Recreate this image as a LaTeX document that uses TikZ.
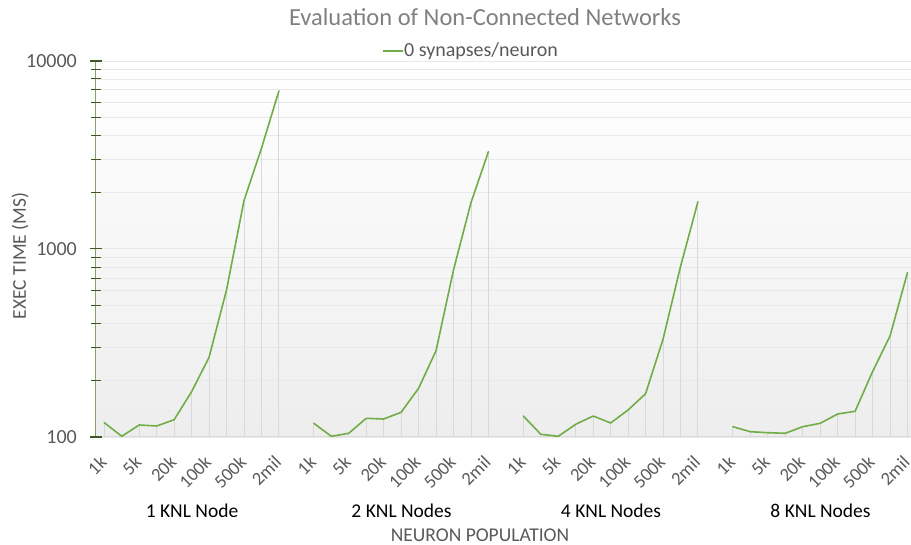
\documentclass[tikz,border=0pt]{standalone}
\usepackage{fontspec}
\setmainfont{Carlito}
\definecolor{linegreen}{HTML}{70AD47}
\definecolor{txtgrey}{HTML}{595959}
\definecolor{titlegrey}{HTML}{808080}
\definecolor{gridgrey}{HTML}{E9E9E9}
\definecolor{dropgrey}{HTML}{D9D9D9}
\definecolor{axisgreen}{HTML}{86A070}
\definecolor{tickgreen}{HTML}{3B5A27}
\tikzset{
  dataline/.style={linegreen, line width=1.6pt, line join=round, line cap=round},
  dropline/.style={dropgrey, line width=0.9pt},
  gridline/.style={gridgrey, line width=0.8pt},
  majortick/.style={tickgreen, line width=1.2pt},
  minortick/.style={tickgreen, line width=0.9pt},
  ylab/.style={anchor=east, inner sep=0pt, text=txtgrey, font=\fontsize{20}{24}\selectfont},
  xlab/.style={anchor=east, inner sep=0pt, rotate=45, text=txtgrey, font=\fontsize{18.5}{22}\selectfont},
  grplab/.style={inner sep=0pt, text=black, font=\fontsize{19.5}{23}\selectfont},
  axtitle/.style={inner sep=0pt, text=txtgrey, font=\fontsize{19.5}{23}\selectfont},
}
\begin{document}
\begin{tikzpicture}[x=1pt,y=-1pt]
\useasboundingbox (0,0) rectangle (911,545);
\begin{scope}
\clip (0,0) rectangle (911,545);
% plot area background
\shade[top color=white, bottom color=black!7] (95.6,61) rectangle (916,437);
% horizontal gridlines
\foreach \d in {0,1}{
  \foreach \m in {1,...,9}{
    \pgfmathsetmacro\yy{437-188.15*(\d+log10(\m))}
    \draw[gridline] (97,\yy) -- (916,\yy);
  }
}
\draw[gridline] (97,61) -- (916,61);
% data coordinates
\foreach \g/\ys in {
  0/{422.7,436.3,425,426,419.7,391.7,357.3,290,200.7,148.3,91},
  1/{423.3,436.3,433.3,418.3,419,412.3,388.3,350.7,270,202.7,151.7},
  2/{416,434.3,436.3,424.3,416,423,410,393.7,339.3,266.7,201.7},
  3/{426.7,431.7,432.7,433.3,426.7,423.3,414,411.3,371.7,336,272.7}}{
  \foreach \yv [count=\i from 0] in \ys {
    \pgfmathsetmacro\xv{104.3+17.46*(\g*12+\i)}
    \coordinate (p\g-\i) at (\xv,\yv);
    \coordinate (b\g-\i) at (\xv,437);
  }
}
% drop lines
\foreach \g in {0,...,3}{
  \foreach \i in {0,...,10}{
    \draw[dropline] (p\g-\i) -- (b\g-\i);
  }
}
% horizontal axis line
\coordinate (xa0) at (95.6,437);
\coordinate (xa1) at (916,437);
\draw[dropgrey, line width=1pt] (xa0) -- (xa1);
% data lines
\foreach \g in {0,...,3}{
  \draw[dataline] (p\g-0) \foreach \i in {1,...,10}{ -- (p\g-\i)};
}
\end{scope}
% vertical axis
\coordinate (ya0) at (95.6,61);
\coordinate (ya1) at (95.6,437);
\draw[axisgreen, line width=1.6pt] (ya0) -- (ya1);
\foreach \d in {0,1}{
  \foreach \m in {2,...,9}{
    \pgfmathsetmacro\yy{437-188.15*(\d+log10(\m))}
    \draw[minortick] (91,\yy) -- (100.5,\yy);
  }
}
\foreach \yy in {61,248.85,437}{
  \draw[majortick] (89.5,\yy) -- (102,\yy);
}
% y labels
\node[ylab] (y4) at (77,61) {10000};
\node[ylab] (y3) at (77,249) {1000};
\node[ylab] (y2) at (77,437.5) {100};
% x labels
\foreach \g in {0,...,3}{
  \foreach \lab [count=\k from 0] in {1k,5k,20k,100k,500k,2mil}{
    \pgfmathsetmacro\xv{104.3+17.46*(\g*12+2*\k)-1}
    \node[xlab] (xl\g-\k) at (\xv,459) {\lab};
  }
}
% group labels
\node[grplab] (g0) at (192,511) {1 KNL Node};
\node[grplab] (g1) at (401.5,511) {2 KNL Nodes};
\node[grplab] (g2) at (611,511) {4 KNL Nodes};
\node[grplab] (g3) at (820.5,511) {8 KNL Nodes};
% axis titles
\node[axtitle] (xt) at (480,535) {NEURON POPULATION};
\node[axtitle, rotate=90] (yt) at (20,256) {EXEC TIME (MS)};
% title
\node[inner sep=0pt, text=titlegrey, font=\fontsize{24.5}{28}\selectfont] (title) at (485,17) {Evaluation of Non-Connected Networks};
% legend
\coordinate (lg0) at (383,51);
\coordinate (lg1) at (402.5,51);
\draw[dataline, line cap=butt] (lg0) -- (lg1);
\node[anchor=west, inner sep=0pt, text=txtgrey, font=\fontsize{20}{24}\selectfont] (legend) at (404,51) {0 synapses/neuron};
\end{tikzpicture}
\end{document}
